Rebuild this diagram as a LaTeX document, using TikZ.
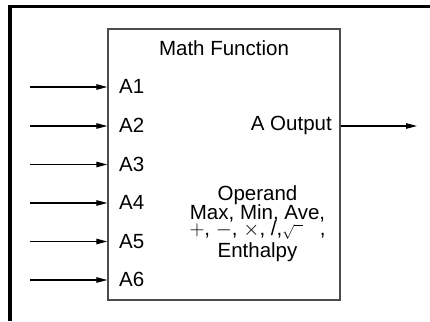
\documentclass[tikz,border=0pt]{standalone}
\usepackage{fontspec}
\setmainfont{Liberation Sans}
\usetikzlibrary{arrows.meta}
\begin{document}
\begin{tikzpicture}[x=1pt,y=-1pt,
  txt/.style={font=\fontsize{20.5}{17.5}\selectfont,inner sep=0pt},
  inarrow/.style={line width=1.1pt,-{Triangle[length=11pt,width=5.5pt]}},
  framebar/.style={line width=3.2pt,black}]
\useasboundingbox (0,0) rectangle (430,321);
\draw[framebar] (430,6.6) -- (10,6.6) -- (10,321);
\node[draw=black!70,line width=1.4pt,minimum width=232pt,minimum height=271pt,inner sep=0pt] (box) at (224,164.5) {};
\node[txt,anchor=base] (title) at (224,56) {Math Function};
\foreach \i/\y in {1/87,2/126,3/164.5,4/203,5/241.5,6/280}{
  \coordinate (s\i) at (30,\y);
  \coordinate (e\i) at (box.west |- s\i);
  \draw[inarrow] (s\i) -- (e\i);
  \node[txt,anchor=base west] (a\i) at (119,\y+6.8) {A\i};
}
\node[txt,anchor=base east] (out) at (332,130.7) {A Output};
\coordinate (ostart) at (box.east |- 0,126);
\coordinate (oend) at (417,126);
\draw[inarrow] (ostart) -- (oend);
\node[txt,anchor=base] (op1) at (257.5,200.7) {Operand};
\node[txt,anchor=base] (op2) at (257.5,219.3) {Max, Min, Ave,};
\node[txt,anchor=base] (op3) at (257.5,235.5) {$+$, $-$, $\times$, /,{\fontsize{14}{14}\selectfont$\sqrt{\phantom{n}}$}\ \ \ ,};
\node[txt,anchor=base] (op4) at (257.5,257) {Enthalpy};
\end{tikzpicture}
\end{document}
